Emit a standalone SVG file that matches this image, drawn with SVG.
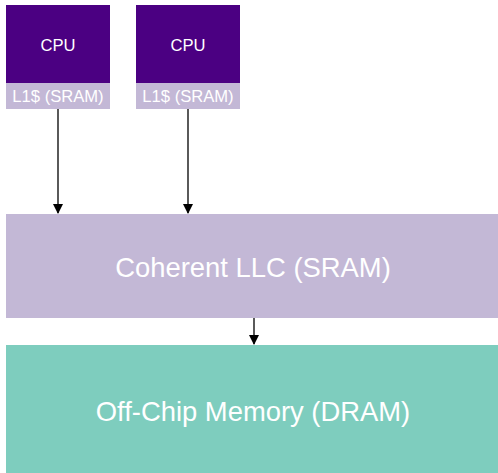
<svg xmlns="http://www.w3.org/2000/svg" width="498" height="473" viewBox="0 0 498 473">
<style>
text{font-family:"Liberation Sans",Arial,sans-serif;fill:#ffffff;text-anchor:middle}
.cpu{fill:#4b0082}
.lav{fill:#c3b8d6}
.dram{fill:#7ecdbe}
.sm{font-size:16.6px}
.lg{font-size:27.4px}
.edge{stroke:#000;stroke-width:1.3;fill:none;marker-end:url(#ah)}
</style>
<defs>
<marker id="ah" markerWidth="10" markerHeight="10" refX="9" refY="5" orient="auto" markerUnits="userSpaceOnUse">
<path d="M0,0 L10,5 L0,10 z" fill="#000"/>
</marker>
</defs>
<rect width="498" height="473" fill="#fff"/>
<g id="cpu1">
<rect class="cpu" x="6" y="5" width="104" height="78"/>
<text class="sm" x="58" y="51">CPU</text>
<rect class="lav" x="6" y="83" width="104" height="26"/>
<text class="sm" x="58" y="102">L1$ (SRAM)</text>
</g>
<g id="cpu2">
<rect class="cpu" x="136" y="5" width="104" height="78"/>
<text class="sm" x="188" y="51">CPU</text>
<rect class="lav" x="136" y="83" width="104" height="26"/>
<text class="sm" x="188" y="102">L1$ (SRAM)</text>
</g>
<g id="llc">
<rect class="lav" x="6" y="214" width="492" height="104"/>
<text class="lg" x="253" y="277">Coherent LLC (SRAM)</text>
</g>
<g id="dram">
<rect class="dram" x="6" y="345" width="492" height="128"/>
<text class="lg" x="253" y="421">Off-Chip Memory (DRAM)</text>
</g>
<g id="connectors">
<line class="edge" x1="58" y1="109" x2="58" y2="213"/>
<line class="edge" x1="188" y1="109" x2="188" y2="213"/>
<line class="edge" x1="254" y1="318" x2="254" y2="344"/>
</g>
</svg>
